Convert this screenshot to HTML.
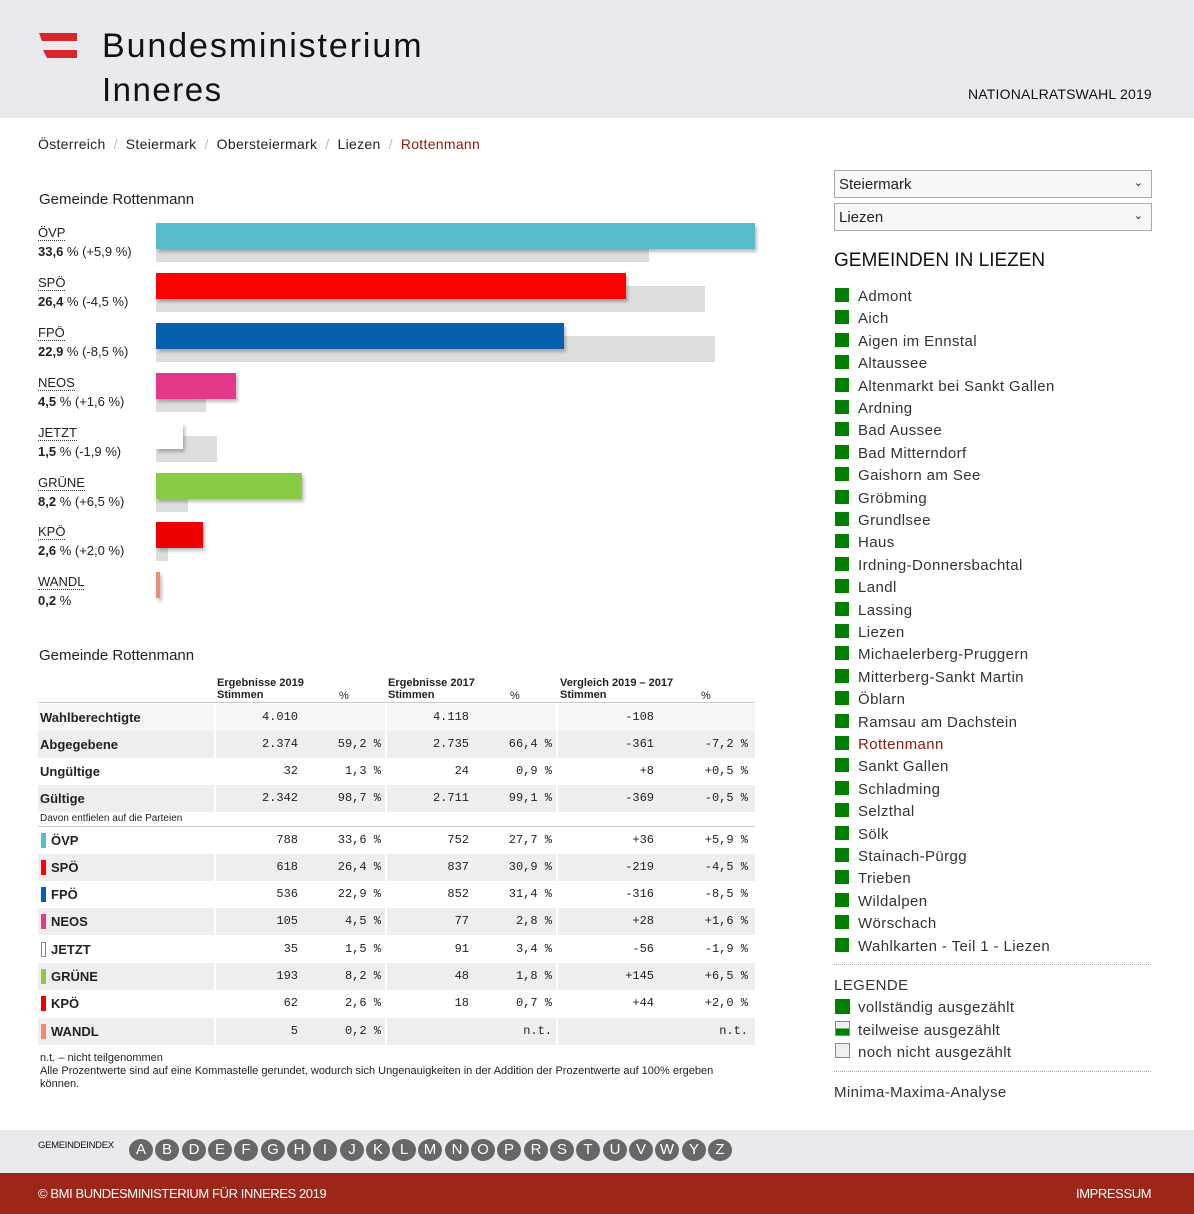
<!DOCTYPE html><html><head><meta charset="utf-8"><style>
*{margin:0;padding:0;box-sizing:border-box}
body{width:1194px;height:1214px;position:relative;background:#fff;font-family:"Liberation Sans",sans-serif;color:#222;overflow:hidden}
.a{position:absolute;white-space:nowrap}
.hdr{left:0;top:0;width:1194px;height:118px;background:#e8eaed}
.bc{top:136px;font-size:14px;color:#222;letter-spacing:0.3px}
.bc span.s{color:#bbb;margin:0 8px}
.h2{font-size:15px;color:#222}
.pl{font-size:13px;line-height:19px}
.pl u{text-decoration:none;border-bottom:1px dotted #333}
.g{background:#ddd;height:26px}
.b{height:26px;box-shadow:2px 3px 3px rgba(0,0,0,.25)}
.tr{left:38px;width:717px;height:27px}
.gr{background:#eee}
.c{font-family:"Liberation Mono",monospace;font-size:12px;text-align:right;line-height:27px}
.lab{font-size:13px;font-weight:bold;line-height:27px}
.sep{width:2px;background:#fff;top:0;bottom:0;position:absolute}
.li{font-size:15px;color:#333;letter-spacing:0.4px;margin-top:2px}
.sq{width:14px;height:14px;background:#008000;margin-top:1px}
.sel{left:834px;width:318px;height:28px;border:1px solid #aaa;background:#f7f8fa;font-size:15px;padding:5px 4px;color:#222}
.circ{width:24px;height:22px;border-radius:50%;background:#676767;color:#fff;font-size:15px;text-align:center;line-height:22px;top:1139px}
</style></head><body>
<div class="a hdr"></div>
<div class="a" style="left:39px;top:33px;width:38px;height:8px;background:#d9262a;clip-path:polygon(0 0,100% 0,100% 100%,8% 100%)"></div>
<div class="a" style="left:43px;top:50px;width:34px;height:8px;background:#d9262a;clip-path:polygon(0 0,100% 0,100% 100%,12% 100%)"></div>
<div class="a" style="left:102px;top:27px;font-size:34px;color:#111;letter-spacing:1.9px">Bundesministerium</div>
<div class="a" style="left:102px;top:71px;font-size:33px;color:#111;letter-spacing:1.5px">Inneres</div>
<div class="a" style="left:968px;top:86px;font-size:14px;color:#111;letter-spacing:0.2px">NATIONALRATSWAHL 2019</div>
<div class="a bc" style="left:38px">Österreich<span class="s">/</span>Steiermark<span class="s">/</span>Obersteiermark<span class="s">/</span>Liezen<span class="s">/</span><span style="color:#8b1a10">Rottenmann</span></div>
<div class="a h2" style="left:39px;top:191px">Gemeinde Rottenmann</div>

<div class="a pl" style="left:38px;top:223px"><u>ÖVP</u><br><b>33,6</b> % (+5,9 %)</div>
<div class="a g" style="left:156px;top:236px;width:493px"></div><div class="a b" style="left:156px;top:223px;width:599px;background:#57bccb"></div>
<div class="a pl" style="left:38px;top:273px"><u>SPÖ</u><br><b>26,4</b> % (-4,5 %)</div>
<div class="a g" style="left:156px;top:286px;width:549px"></div><div class="a b" style="left:156px;top:273px;width:470px;background:#f00"></div>
<div class="a pl" style="left:38px;top:323px"><u>FPÖ</u><br><b>22,9</b> % (-8,5 %)</div>
<div class="a g" style="left:156px;top:336px;width:559px"></div><div class="a b" style="left:156px;top:323px;width:408px;background:#0560b0"></div>
<div class="a pl" style="left:38px;top:373px"><u>NEOS</u><br><b>4,5</b> % (+1,6 %)</div>
<div class="a g" style="left:156px;top:386px;width:50px"></div><div class="a b" style="left:156px;top:373px;width:80px;background:#e2398a"></div>
<div class="a pl" style="left:38px;top:423px"><u>JETZT</u><br><b>1,5</b> % (-1,9 %)</div>
<div class="a g" style="left:156px;top:436px;width:61px"></div><div class="a b" style="left:156px;top:423px;width:27px;background:#fff"></div>
<div class="a pl" style="left:38px;top:473px"><u>GRÜNE</u><br><b>8,2</b> % (+6,5 %)</div>
<div class="a g" style="left:156px;top:486px;width:32px"></div><div class="a b" style="left:156px;top:473px;width:146px;background:#88cc44"></div>
<div class="a pl" style="left:38px;top:522px"><u>KPÖ</u><br><b>2,6</b> % (+2,0 %)</div>
<div class="a g" style="left:156px;top:535px;width:12px"></div><div class="a b" style="left:156px;top:522px;width:47px;background:#e00"></div>
<div class="a pl" style="left:38px;top:572px"><u>WANDL</u><br><b>0,2</b> %</div>
<div class="a b" style="left:156px;top:572px;width:4px;background:#f08a70"></div>

<div class="a h2" style="left:39px;top:647px">Gemeinde Rottenmann</div>
<div class="a" style="left:38px;top:702px;width:717px;border-top:1px solid #ccc"></div>
<div class="a" style="left:217px;top:677px;font-size:11px;font-weight:bold;line-height:12px">Ergebnisse 2019<br>Stimmen</div>
<div class="a" style="left:339px;top:690px;font-size:11px">%</div>
<div class="a" style="left:388px;top:677px;font-size:11px;font-weight:bold;line-height:12px">Ergebnisse 2017<br>Stimmen</div>
<div class="a" style="left:510px;top:690px;font-size:11px">%</div>
<div class="a" style="left:560px;top:677px;font-size:11px;font-weight:bold;line-height:12px">Vergleich 2019 – 2017<br>Stimmen</div>
<div class="a" style="left:701px;top:690px;font-size:11px">%</div>

<div class="a tr" style="top:704px;background:#f6f6f6"><div class="sep" style="left:176px"></div><div class="sep" style="left:347px"></div><div class="sep" style="left:518px"></div><div class="a lab" style="left:2px">Wahlberechtigte</div><div class="a c" style="right:457px">4.010</div><div class="a c" style="right:286px">4.118</div><div class="a c" style="right:101px">-108</div></div>
<div class="a tr gr" style="top:731px"><div class="sep" style="left:176px"></div><div class="sep" style="left:347px"></div><div class="sep" style="left:518px"></div><div class="a lab" style="left:2px">Abgegebene</div><div class="a c" style="right:457px">2.374</div><div class="a c" style="right:374px">59,2 %</div><div class="a c" style="right:286px">2.735</div><div class="a c" style="right:203px">66,4 %</div><div class="a c" style="right:101px">-361</div><div class="a c" style="right:7px">-7,2 %</div></div>
<div class="a tr" style="top:758px"><div class="a lab" style="left:2px">Ungültige</div><div class="a c" style="right:457px">32</div><div class="a c" style="right:374px">1,3 %</div><div class="a c" style="right:286px">24</div><div class="a c" style="right:203px">0,9 %</div><div class="a c" style="right:101px">+8</div><div class="a c" style="right:7px">+0,5 %</div></div>
<div class="a tr gr" style="top:785px"><div class="sep" style="left:176px"></div><div class="sep" style="left:347px"></div><div class="sep" style="left:518px"></div><div class="a lab" style="left:2px">Gültige</div><div class="a c" style="right:457px">2.342</div><div class="a c" style="right:374px">98,7 %</div><div class="a c" style="right:286px">2.711</div><div class="a c" style="right:203px">99,1 %</div><div class="a c" style="right:101px">-369</div><div class="a c" style="right:7px">-0,5 %</div></div>
<div class="a" style="left:40px;top:813px;font-size:10px">Davon entfielen auf die Parteien</div>
<div class="a" style="left:38px;top:826px;width:717px;border-top:1px solid #ccc"></div>

<div class="a tr" style="top:827px"><div class="a" style="left:3px;top:6px;width:5px;height:15px;background:#57bccb"></div><div class="a lab" style="left:13px">ÖVP</div><div class="a c" style="right:457px">788</div><div class="a c" style="right:374px">33,6 %</div><div class="a c" style="right:286px">752</div><div class="a c" style="right:203px">27,7 %</div><div class="a c" style="right:101px">+36</div><div class="a c" style="right:7px">+5,9 %</div></div>
<div class="a tr gr" style="top:854px"><div class="sep" style="left:176px"></div><div class="sep" style="left:347px"></div><div class="sep" style="left:518px"></div><div class="a" style="left:3px;top:6px;width:5px;height:15px;background:#f00"></div><div class="a lab" style="left:13px">SPÖ</div><div class="a c" style="right:457px">618</div><div class="a c" style="right:374px">26,4 %</div><div class="a c" style="right:286px">837</div><div class="a c" style="right:203px">30,9 %</div><div class="a c" style="right:101px">-219</div><div class="a c" style="right:7px">-4,5 %</div></div>
<div class="a tr" style="top:881px"><div class="a" style="left:3px;top:6px;width:5px;height:15px;background:#0560b0"></div><div class="a lab" style="left:13px">FPÖ</div><div class="a c" style="right:457px">536</div><div class="a c" style="right:374px">22,9 %</div><div class="a c" style="right:286px">852</div><div class="a c" style="right:203px">31,4 %</div><div class="a c" style="right:101px">-316</div><div class="a c" style="right:7px">-8,5 %</div></div>
<div class="a tr gr" style="top:908px"><div class="sep" style="left:176px"></div><div class="sep" style="left:347px"></div><div class="sep" style="left:518px"></div><div class="a" style="left:3px;top:6px;width:5px;height:15px;background:#e2398a"></div><div class="a lab" style="left:13px">NEOS</div><div class="a c" style="right:457px">105</div><div class="a c" style="right:374px">4,5 %</div><div class="a c" style="right:286px">77</div><div class="a c" style="right:203px">2,8 %</div><div class="a c" style="right:101px">+28</div><div class="a c" style="right:7px">+1,6 %</div></div>
<div class="a tr" style="top:936px"><div class="a" style="left:3px;top:6px;width:5px;height:15px;border:1px solid #888"></div><div class="a lab" style="left:13px">JETZT</div><div class="a c" style="right:457px">35</div><div class="a c" style="right:374px">1,5 %</div><div class="a c" style="right:286px">91</div><div class="a c" style="right:203px">3,4 %</div><div class="a c" style="right:101px">-56</div><div class="a c" style="right:7px">-1,9 %</div></div>
<div class="a tr gr" style="top:963px"><div class="sep" style="left:176px"></div><div class="sep" style="left:347px"></div><div class="sep" style="left:518px"></div><div class="a" style="left:3px;top:6px;width:5px;height:15px;background:#88cc44"></div><div class="a lab" style="left:13px">GRÜNE</div><div class="a c" style="right:457px">193</div><div class="a c" style="right:374px">8,2 %</div><div class="a c" style="right:286px">48</div><div class="a c" style="right:203px">1,8 %</div><div class="a c" style="right:101px">+145</div><div class="a c" style="right:7px">+6,5 %</div></div>
<div class="a tr" style="top:990px"><div class="a" style="left:3px;top:6px;width:5px;height:15px;background:#e00"></div><div class="a lab" style="left:13px">KPÖ</div><div class="a c" style="right:457px">62</div><div class="a c" style="right:374px">2,6 %</div><div class="a c" style="right:286px">18</div><div class="a c" style="right:203px">0,7 %</div><div class="a c" style="right:101px">+44</div><div class="a c" style="right:7px">+2,0 %</div></div>
<div class="a tr gr" style="top:1018px"><div class="sep" style="left:176px"></div><div class="sep" style="left:347px"></div><div class="sep" style="left:518px"></div><div class="a" style="left:3px;top:6px;width:5px;height:15px;background:#f08a70"></div><div class="a lab" style="left:13px">WANDL</div><div class="a c" style="right:457px">5</div><div class="a c" style="right:374px">0,2 %</div><div class="a c" style="right:203px">n.t.</div><div class="a c" style="right:7px">n.t.</div></div>

<div class="a" style="left:40px;top:1052px;font-size:11px;line-height:13px;white-space:normal;width:685px">n.t. – nicht teilgenommen<br>Alle Prozentwerte sind auf eine Kommastelle gerundet, wodurch sich Ungenauigkeiten in der Addition der Prozentwerte auf 100% ergeben können.</div>

<div class="a sel" style="top:170px">Steiermark<span style="position:absolute;right:8px;font-size:11px">⌄</span></div>
<div class="a sel" style="top:203px">Liezen<span style="position:absolute;right:8px;font-size:11px">⌄</span></div>
<div class="a" style="left:834px;top:250px;font-size:19px;color:#111">GEMEINDEN IN LIEZEN</div>

<div class="a sq" style="left:835px;top:287px"></div><div class="a li" style="left:858px;top:286px">Admont</div>
<div class="a sq" style="left:835px;top:309px"></div><div class="a li" style="left:858px;top:308px">Aich</div>
<div class="a sq" style="left:835px;top:332px"></div><div class="a li" style="left:858px;top:331px">Aigen im Ennstal</div>
<div class="a sq" style="left:835px;top:354px"></div><div class="a li" style="left:858px;top:353px">Altaussee</div>
<div class="a sq" style="left:835px;top:377px"></div><div class="a li" style="left:858px;top:376px">Altenmarkt bei Sankt Gallen</div>
<div class="a sq" style="left:835px;top:399px"></div><div class="a li" style="left:858px;top:398px">Ardning</div>
<div class="a sq" style="left:835px;top:421px"></div><div class="a li" style="left:858px;top:420px">Bad Aussee</div>
<div class="a sq" style="left:835px;top:444px"></div><div class="a li" style="left:858px;top:443px">Bad Mitterndorf</div>
<div class="a sq" style="left:835px;top:466px"></div><div class="a li" style="left:858px;top:465px">Gaishorn am See</div>
<div class="a sq" style="left:835px;top:489px"></div><div class="a li" style="left:858px;top:488px">Gröbming</div>
<div class="a sq" style="left:835px;top:511px"></div><div class="a li" style="left:858px;top:510px">Grundlsee</div>
<div class="a sq" style="left:835px;top:533px"></div><div class="a li" style="left:858px;top:532px">Haus</div>
<div class="a sq" style="left:835px;top:556px"></div><div class="a li" style="left:858px;top:555px">Irdning-Donnersbachtal</div>
<div class="a sq" style="left:835px;top:578px"></div><div class="a li" style="left:858px;top:577px">Landl</div>
<div class="a sq" style="left:835px;top:601px"></div><div class="a li" style="left:858px;top:600px">Lassing</div>
<div class="a sq" style="left:835px;top:623px"></div><div class="a li" style="left:858px;top:622px">Liezen</div>
<div class="a sq" style="left:835px;top:645px"></div><div class="a li" style="left:858px;top:644px">Michaelerberg-Pruggern</div>
<div class="a sq" style="left:835px;top:668px"></div><div class="a li" style="left:858px;top:667px">Mitterberg-Sankt Martin</div>
<div class="a sq" style="left:835px;top:690px"></div><div class="a li" style="left:858px;top:689px">Öblarn</div>
<div class="a sq" style="left:835px;top:713px"></div><div class="a li" style="left:858px;top:712px">Ramsau am Dachstein</div>
<div class="a sq" style="left:835px;top:735px"></div><div class="a li" style="left:858px;top:734px;color:#8b1a10">Rottenmann</div>
<div class="a sq" style="left:835px;top:757px"></div><div class="a li" style="left:858px;top:756px">Sankt Gallen</div>
<div class="a sq" style="left:835px;top:780px"></div><div class="a li" style="left:858px;top:779px">Schladming</div>
<div class="a sq" style="left:835px;top:802px"></div><div class="a li" style="left:858px;top:801px">Selzthal</div>
<div class="a sq" style="left:835px;top:825px"></div><div class="a li" style="left:858px;top:824px">Sölk</div>
<div class="a sq" style="left:835px;top:847px"></div><div class="a li" style="left:858px;top:846px">Stainach-Pürgg</div>
<div class="a sq" style="left:835px;top:869px"></div><div class="a li" style="left:858px;top:868px">Trieben</div>
<div class="a sq" style="left:835px;top:892px"></div><div class="a li" style="left:858px;top:891px">Wildalpen</div>
<div class="a sq" style="left:835px;top:914px"></div><div class="a li" style="left:858px;top:913px">Wörschach</div>
<div class="a sq" style="left:835px;top:937px"></div><div class="a li" style="left:858px;top:936px">Wahlkarten - Teil 1 - Liezen</div>
<div class="a" style="left:834px;top:964px;width:317px;border-top:1px dotted #aaa"></div>
<div class="a li" style="left:834px;top:975px">LEGENDE</div>
<div class="a sq" style="left:835px;top:998px;width:15px;height:15px"></div><div class="a li" style="left:858px;top:997px">vollständig ausgezählt</div>
<div class="a" style="left:835px;top:1021px;width:15px;height:15px;border:1px solid #888;background:linear-gradient(#eef0f2 50%,#008000 50%)"></div><div class="a li" style="left:858px;top:1020px">teilweise ausgezählt</div>
<div class="a" style="left:835px;top:1043px;width:15px;height:15px;border:1px solid #888;background:#eef0f2"></div><div class="a li" style="left:858px;top:1042px">noch nicht ausgezählt</div>
<div class="a" style="left:834px;top:1071px;width:317px;border-top:1px dotted #aaa"></div>
<div class="a li" style="left:834px;top:1082px">Minima-Maxima-Analyse</div>

<div class="a" style="left:0;top:1130px;width:1194px;height:43px;background:#e8eaed"></div>
<div class="a" style="left:38px;top:1140px;font-size:9.5px;color:#111;letter-spacing:-0.3px">GEMEINDEINDEX</div>
<div class="a circ" style="left:129px">A</div><div class="a circ" style="left:155px">B</div><div class="a circ" style="left:182px">D</div><div class="a circ" style="left:208px">E</div><div class="a circ" style="left:234px">F</div><div class="a circ" style="left:261px">G</div><div class="a circ" style="left:287px">H</div><div class="a circ" style="left:313px">I</div><div class="a circ" style="left:340px">J</div><div class="a circ" style="left:366px">K</div><div class="a circ" style="left:392px">L</div><div class="a circ" style="left:418px">M</div><div class="a circ" style="left:445px">N</div><div class="a circ" style="left:471px">O</div><div class="a circ" style="left:497px">P</div><div class="a circ" style="left:524px">R</div><div class="a circ" style="left:550px">S</div><div class="a circ" style="left:576px">T</div><div class="a circ" style="left:603px">U</div><div class="a circ" style="left:629px">V</div><div class="a circ" style="left:655px">W</div><div class="a circ" style="left:682px">Y</div><div class="a circ" style="left:708px">Z</div>
<div class="a" style="left:0;top:1173px;width:1194px;height:41px;background:#9b2619"></div>
<div class="a" style="left:38px;top:1186px;font-size:13px;color:#fff;letter-spacing:-0.4px">© BMI BUNDESMINISTERIUM FÜR INNERES 2019</div>
<div class="a" style="left:1076px;top:1186px;font-size:13px;color:#fff;letter-spacing:-0.4px">IMPRESSUM</div>
</body></html>
